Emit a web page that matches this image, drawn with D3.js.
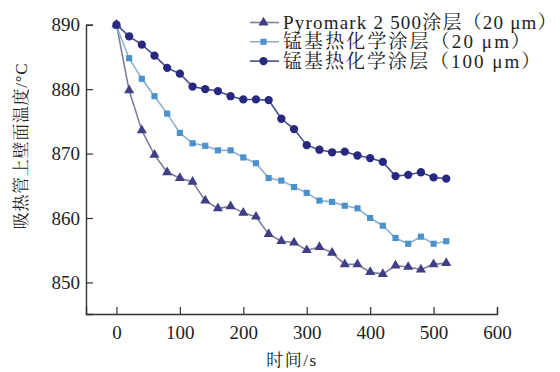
<!DOCTYPE html>
<html>
<head>
<meta charset="utf-8">
<script src="https://cdn.jsdelivr.net/npm/d3@7"></script>
<style>
  html, body { margin: 0; padding: 0; background: #ffffff; }
  svg { display: block; }
</style>
</head>
<body>
<svg id="chart" width="560" height="372"></svg>
<script>
// Time samples (s)
const times = [0, 20, 40, 60, 80, 100, 120, 140, 160, 180, 200, 220, 240, 260,
               280, 300, 320, 340, 360, 380, 400, 420, 440, 460, 480, 500, 520];

// Upper wall temperature of the absorber tube (°C)
const pyromark20 = [890.0, 879.8, 873.6, 869.8, 867.1, 866.2, 865.6, 862.7, 861.5, 861.8,
                    860.8, 860.2, 857.5, 856.4, 856.2, 855.0, 855.5, 854.6, 852.8, 852.8,
                    851.6, 851.3, 852.6, 852.4, 852.0, 852.8, 853.0];
const mn20 = [889.8, 884.8, 881.6, 878.9, 876.2, 873.2, 871.6, 871.2, 870.5, 870.5,
              869.4, 868.5, 866.2, 865.8, 864.8, 863.9, 862.7, 862.5, 861.9, 861.5,
              860.0, 858.8, 856.9, 856.0, 857.1, 856.0, 856.4];
const mn100 = [890.0, 888.2, 886.9, 885.2, 883.3, 882.4, 880.4, 880.0, 879.7, 878.9,
               878.4, 878.4, 878.3, 875.4, 873.8, 871.3, 870.6, 870.2, 870.3, 869.7,
               869.3, 868.7, 866.5, 866.7, 867.1, 866.3, 866.1];

const seriesNames = ["Pyromark 2 500涂层（20 μm）", "锰基热化学涂层（20 μm）", "锰基热化学涂层（100 μm）"];
const xTicks = [0, 100, 200, 300, 400, 500, 600];
const yTicks = [850, 860, 870, 880, 890];
const xTitle = "时间/s";
const yTitle = "吸热管上壁面温度/°C";

const FONT = "'Liberation Serif', 'Noto Serif CJK SC', serif";

const series = [
  { name: seriesNames[0], values: pyromark20, shape: d3.symbolTriangle, size: 44,
    fill: "#3f3f86", line: "#7f7f99", spacing: 1.2 },
  { name: seriesNames[1], values: mn20, shape: d3.symbolSquare, size: 38,
    fill: "#4b92cc", line: "#8fb0cf", spacing: 2.1 },
  { name: seriesNames[2], values: mn100, shape: d3.symbolCircle, size: 54,
    fill: "#27287f", line: "#46508a", spacing: 2.0 }
];

const svg = d3.select("#chart");
const x = d3.scaleLinear().domain([-48, 600]).range([86, 497]);
const y = d3.scaleLinear().domain([845.1, 890]).range([314, 24.7]);

// Axes with inward ticks
const axisColor = "#333";
const gx = svg.append("g").attr("transform", `translate(0,${y.range()[0]})`)
  .call(d3.axisBottom(x).tickValues(xTicks).tickSize(-7).tickPadding(12).tickFormat(d3.format("d")));
const gy = svg.append("g").attr("transform", `translate(${x.range()[0]},0)`)
  .call(d3.axisLeft(y).tickValues(yTicks).tickSize(-7).tickPadding(6).tickFormat(d3.format("d")));
[gx, gy].forEach(g => {
  g.attr("font-family", null).attr("font-size", null);
  g.select(".domain").attr("stroke", axisColor).attr("stroke-width", 1.4);
  g.selectAll(".tick line").attr("stroke", axisColor).attr("stroke-width", 1.2);
  g.selectAll(".tick text").style("font-family", FONT).style("font-size", "19px").attr("fill", "#222");
});

// Series lines and markers
const line = d3.line().x((d, i) => x(times[i])).y(d => y(d));
series.forEach(s => {
  svg.append("path").datum(s.values)
    .attr("fill", "none").attr("stroke", s.line).attr("stroke-width", 1.6)
    .attr("d", line);
});
series.forEach(s => {
  svg.append("g").selectAll("path").data(s.values).join("path")
    .attr("transform", (d, i) => `translate(${x(times[i])},${y(d)})`)
    .attr("d", d3.symbol().type(s.shape).size(s.size))
    .attr("fill", s.fill);
});

// Legend (top right)
const legend = svg.append("g").attr("transform", "translate(250,22.5)");
series.forEach((s, k) => {
  const row = legend.append("g").attr("transform", `translate(0,${k * 19.3})`);
  row.append("line").attr("x1", 0).attr("x2", 29).attr("stroke", s.line).attr("stroke-width", 1.6);
  row.append("path").attr("transform", "translate(13.5,0)")
    .attr("d", d3.symbol().type(s.shape).size(s.size)).attr("fill", s.fill);
  row.append("text").attr("x", 33).attr("dy", "0.35em")
    .style("font-family", FONT).style("font-size", "19px").attr("fill", "#222")
    .attr("letter-spacing", s.spacing)
    .text(s.name);
});

// Axis titles
svg.append("text").attr("x", 292).attr("y", 360).attr("text-anchor", "middle")
  .attr("dy", "0.35em").style("font-family", FONT).style("font-size", "17px")
  .attr("fill", "#222").attr("letter-spacing", 1.5).text(xTitle);
svg.append("text").attr("transform", "translate(21,146) rotate(-90)")
  .attr("text-anchor", "middle").attr("dy", "0.35em")
  .style("font-family", FONT).style("font-size", "17px")
  .attr("fill", "#222").attr("letter-spacing", 0.7).text(yTitle);
</script>
</body>
</html>
